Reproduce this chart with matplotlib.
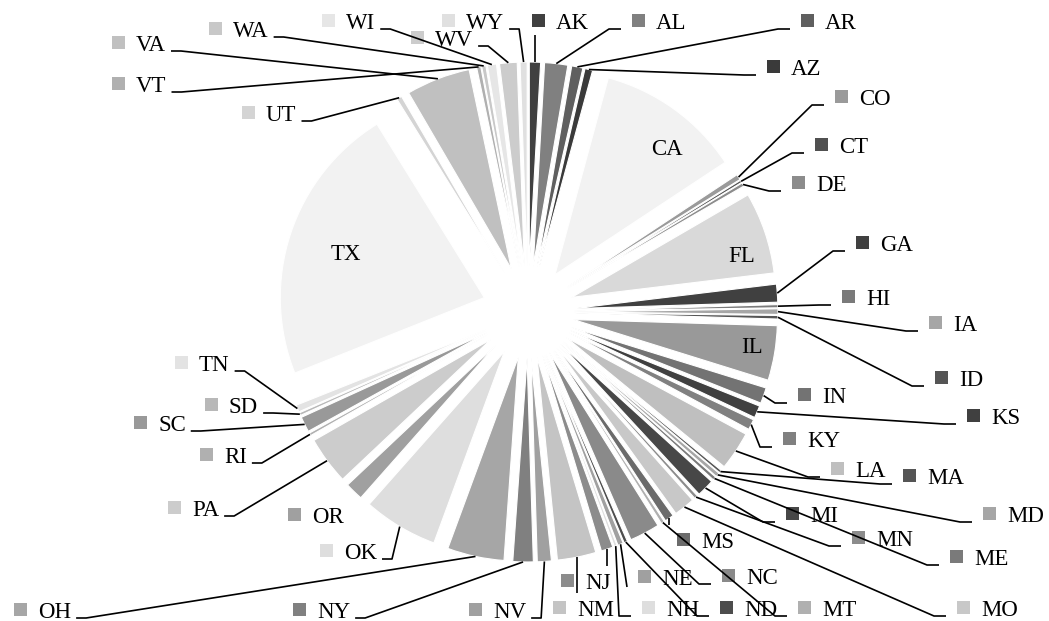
import matplotlib
matplotlib.use("Agg")
import matplotlib.pyplot as plt
from matplotlib.patches import Rectangle
import numpy as np

# ---- data -------------------------------------------------------------
states = ["AK", "AL", "AR", "AZ", "CA", "CO", "CT", "DE", "FL", "GA",
          "HI", "IA", "ID", "IL", "IN", "KS", "KY", "LA", "MA", "MD",
          "ME", "MI", "MN", "MO", "MS", "MT", "NC", "ND", "NE", "NH",
          "NJ", "NM", "NV", "NY", "OH", "OK", "OR", "PA", "RI", "SC",
          "SD", "TN", "TX", "UT", "VA", "VT", "WA", "WI", "WV", "WY"]

shares = [0.89, 1.83, 0.89, 0.61, 11.50, 0.44, 0.19, 0.28, 6.47, 1.42,
          0.25, 0.44, 0.28, 4.33, 1.25, 0.97, 0.83, 3.06, 0.22, 0.33,
          0.28, 1.39, 0.28, 1.67, 0.72, 0.28, 2.39, 0.28, 0.44, 0.22,
          0.94, 3.06, 1.11, 1.61, 4.50, 5.92, 1.44, 3.78, 0.22, 1.22,
          0.22, 0.56, 22.22, 0.42, 5.08, 0.33, 0.33, 0.72, 1.39, 0.56]

colors = ["#404040", "#808080", "#5f5f5f", "#3a3a3a", "#f2f2f2", "#9a9a9a",
          "#505050", "#8c8c8c", "#d9d9d9", "#404040", "#7a7a7a", "#a6a6a6",
          "#555555", "#999999", "#737373", "#404040", "#808080", "#bfbfbf",
          "#555555", "#a6a6a6", "#7a7a7a", "#474747", "#8c8c8c", "#c8c8c8",
          "#6b6b6b", "#b0b0b0", "#8a8a8a", "#4d4d4d", "#a0a0a0", "#dedede",
          "#8c8c8c", "#c4c4c4", "#a0a0a0", "#808080", "#a6a6a6", "#dedede",
          "#a0a0a0", "#cccccc", "#b0b0b0", "#999999", "#b8b8b8", "#e3e3e3",
          "#f2f2f2", "#d4d4d4", "#c0c0c0", "#b0b0b0", "#c8c8c8", "#e6e6e6",
          "#cccccc", "#e0e0e0"]

# ---- layout (pixel coordinates, origin top-left) ----------------------
W, H, DPI = 1049, 621, 100
CX, CY = 528, 312          # pie centre
RPX = 204                  # pie radius
EXPLODE = 46 / RPX

# labels drawn inside their slice: text centre
inside = {"CA": (667, 147), "TX": (346, 252), "FL": (742, 254), "IL": (752, 345)}

# outside labels: legend-square centre and how the leader line attaches
outside = {
    "AK": (538, 20, "T"), "AL": (638, 20, "L"), "AR": (807, 20, "L"),
    "AZ": (773, 66, "L"), "CO": (841, 96, "L"), "CT": (821, 144, "L"),
    "DE": (798, 182, "L"), "GA": (862, 242, "L"), "HI": (848, 296, "L"),
    "IA": (935, 322, "L"), "ID": (941, 377, "L"), "IN": (804, 394, "L"),
    "KS": (973, 415, "L"), "KY": (789, 438, "L"), "LA": (837, 468, "L"),
    "MA": (909, 475, "L"), "MD": (989, 513, "L"), "ME": (956, 556, "L"),
    "MI": (792, 513, "L"), "MN": (858, 537, "L"), "MO": (963, 607, "L"),
    "MS": (683, 539, "B"), "MT": (804, 607, "L"), "NC": (728, 575, "L"),
    "ND": (726, 607, "L"), "NE": (644, 576, "D"), "NH": (648, 607, "L"),
    "NJ": (567, 580, "B"), "NM": (559, 607, "B"), "NV": (475, 609, "R"),
    "NY": (299, 609, "R"), "OH": (20, 609, "R"), "OK": (326, 550, "R"),
    "OR": (294, 514, None), "PA": (174, 507, "R"), "RI": (206, 454, "R"),
    "SC": (140, 422, "R"), "SD": (211, 404, "R"), "TN": (181, 362, "R"),
    "UT": (248, 112, "R"), "VA": (118, 42, "R"), "VT": (118, 83, "R"),
    "WA": (215, 28, "R"), "WI": (328, 20, "R"), "WV": (417, 37, "R"),
    "WY": (448, 20, "R"),
}

FONT = dict(family="Liberation Serif", fontsize=16.5, color="black")


def P(x, y):
    """pixel position -> data coordinates"""
    return ((x - CX) / RPX, (CY - y) / RPX)


fig = plt.figure(figsize=(W / DPI, H / DPI), dpi=DPI)
ax = fig.add_axes([0, 0, 1, 1])
wedges, _ = ax.pie(shares, colors=colors, startangle=90, counterclock=False,
                   explode=[EXPLODE] * len(shares), radius=1.0,
                   wedgeprops=dict(edgecolor="white", linewidth=0.8))
ax.set_xlim(-CX / RPX, (W - CX) / RPX)
ax.set_ylim(-(H - CY) / RPX, CY / RPX)
ax.set_aspect("equal")
ax.axis("off")

# outer-arc midpoint of each slice, in pixels
arc_mid = {}
for st, w in zip(states, wedges):
    phi = np.deg2rad((w.theta1 + w.theta2) / 2)
    x = w.center[0] + w.r * np.cos(phi)
    y = w.center[1] + w.r * np.sin(phi)
    arc_mid[st] = (CX + x * RPX, CY - y * RPX)

for st, (x, y) in inside.items():
    ax.text(*P(x, y + 7.5), st, ha="center", va="baseline", **FONT)

texts = {}
for st, (mx, my, mode) in outside.items():
    col = colors[states.index(st)]
    ax.add_patch(Rectangle(P(mx - 6.5, my + 6.5), 13 / RPX, 13 / RPX,
                           facecolor=col, edgecolor="none"))
    texts[st] = ax.text(*P(mx + 18, my + 9), st, ha="left", va="baseline", **FONT)

fig.canvas.draw()
renderer = fig.canvas.get_renderer()

for st, (mx, my, mode) in outside.items():
    if mode is None:
        continue
    sx, sy = arc_mid[st]
    if mode == "L":
        path = [(sx, sy), (mx - 29, my + 9), (mx - 17, my + 9)]
    elif mode == "R":
        right = texts[st].get_window_extent(renderer).x1
        path = [(sx, sy), (right + 15, my + 9), (right + 5, my + 9)]
    elif mode == "T":
        path = [(sx, sy), (sx, my + 15)]
    elif mode == "B":
        path = [(sx, sy), (sx, my - 14)]
    else:  # "D"
        path = [(sx, sy), (mx - 17, my + 11)]
    pts = [P(px, py) for px, py in path]
    ax.plot([p[0] for p in pts], [p[1] for p in pts], color="black",
            lw=1.2, solid_capstyle="butt")

fig.savefig("out.png", dpi=DPI, facecolor="white")
